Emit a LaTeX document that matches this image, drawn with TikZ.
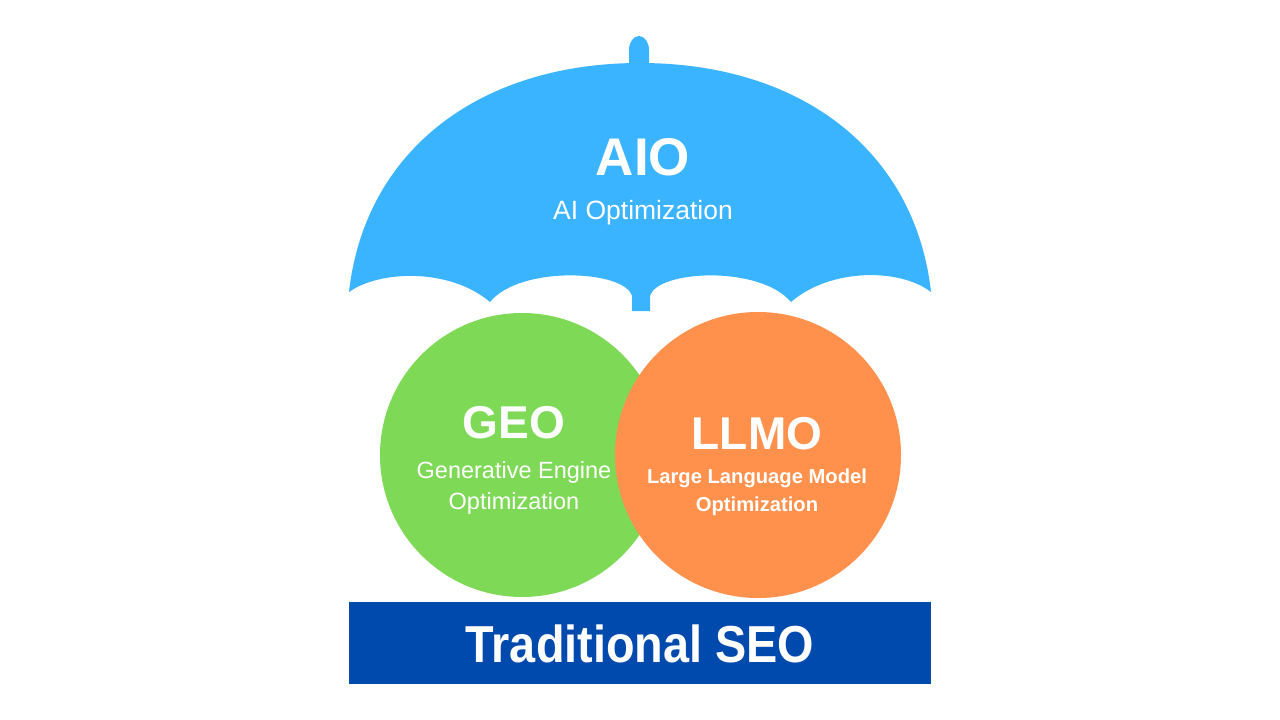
\documentclass[tikz,border=0pt]{standalone}
\usepackage{fontspec}
\setmainfont{Liberation Sans}
\newfontfamily\narrowsans[FakeStretch=0.9]{Liberation Sans}
\definecolor{umb}{RGB}{59,180,255}
\definecolor{geo}{RGB}{126,217,87}
\definecolor{llmo}{RGB}{255,145,77}
\definecolor{seo}{RGB}{0,74,173}
\begin{document}
\begin{tikzpicture}[x=1pt,y=-1pt,
  txt/.style={text=white,inner sep=0pt,anchor=base},
  fs/.style={font=\fontsize{#1}{#1}\selectfont},
  bfs/.style={font=\bfseries\fontsize{#1}{#1}\selectfont}]
\fill[white] (0,0) rectangle (1280,720);
\useasboundingbox (0,0) rectangle (1280,720);
% umbrella stem top
\fill[umb] (629,68) -- (629,50)
  arc[start angle=180,end angle=360,x radius=10,y radius=14] -- (649,68) -- cycle;
% canopy
\fill[umb] (349,292) .. controls (365,150) and (480,63) .. (640,63)
  .. controls (800,63) and (915,150) .. (931,292)
  .. controls (900,268) and (830,268) .. (791,302)
  .. controls (760,265) and (657,270) .. (650,296)
  -- (650,311) -- (632,311) -- (632,296)
  .. controls (625,270) and (520,265) .. (490,302)
  .. controls (450,268) and (380,270) .. (349,292) -- cycle;
% circles
\node[circle,fill=geo,minimum size=284pt,inner sep=0pt] (geoc) at (522,455) {};
\node[circle,fill=llmo,minimum size=286pt,inner sep=0pt] (llmoc) at (758,455) {};
% texts
\node[txt,bfs=53] (aio) at (643,175) {AIO};
\node[txt,fs=26.5] (aiosub) at (643,219) {AI Optimization};
\node[txt,bfs=46] (geot) at (514,438) {GEO};
\node[txt,fs=23.5] (geo1) at (514,478) {Generative Engine};
\node[txt,fs=23.5] (geo2) at (514,509) {Optimization};
\node[txt,bfs=46] (llmot) at (757,449) {LLMO};
\node[txt,bfs=20.2] (llmo1) at (757,483) {Large Language Model};
\node[txt,bfs=20.2] (llmo2) at (757,511) {Optimization};
% base
\node[fill=seo,minimum width=582pt,minimum height=82pt,inner sep=0pt] (seob) at (640,643) {};
\node[txt,font=\narrowsans\bfseries\fontsize{52}{52}\selectfont] (seot) at (640,662) {Traditional SEO};
\end{tikzpicture}
\end{document}
